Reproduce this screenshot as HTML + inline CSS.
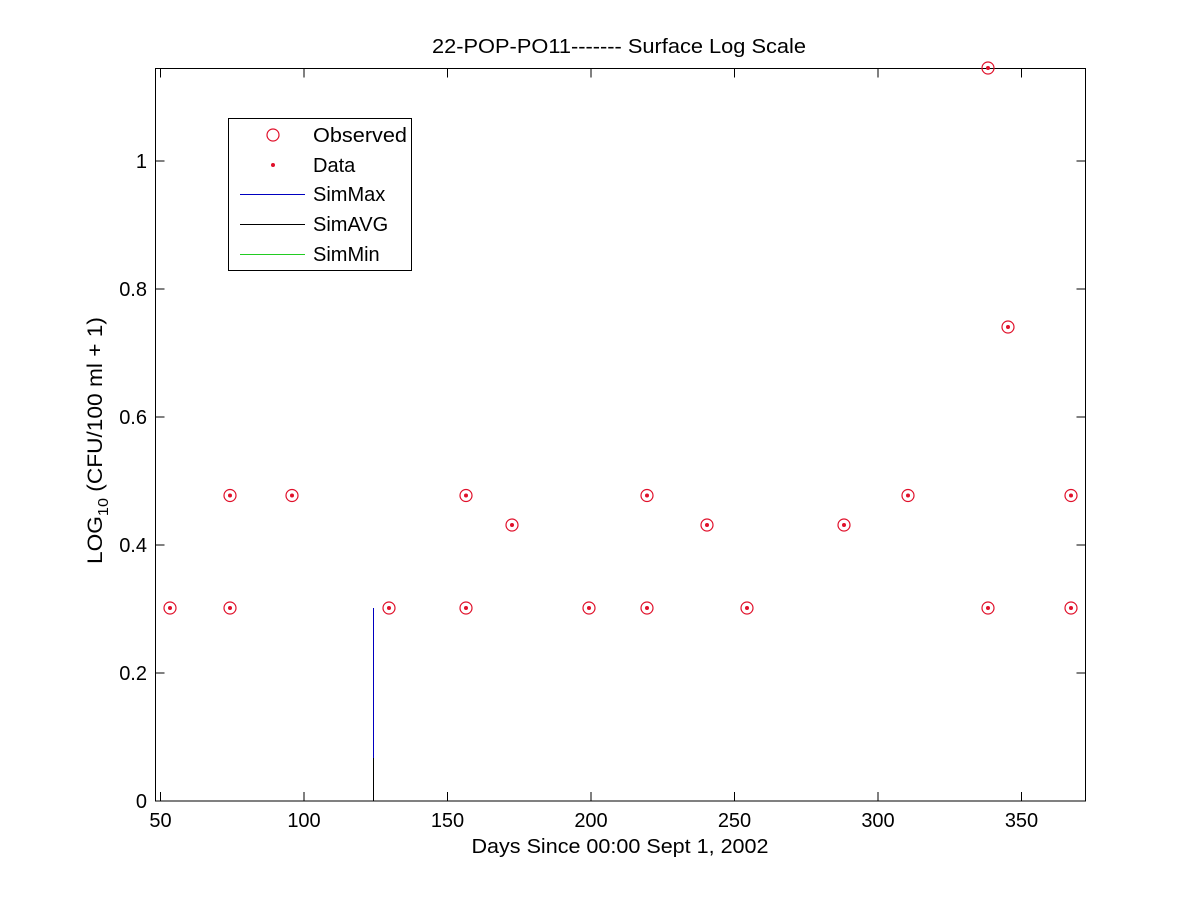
<!DOCTYPE html>
<html>
<head>
<meta charset="utf-8">
<style>
  html,body{margin:0;padding:0;background:#fff;}
  svg{display:block;}
  text{font-family:"Liberation Sans",Arial,sans-serif;fill:#000;}
</style>
</head>
<body>
<svg width="1200" height="900" viewBox="0 0 1200 900" xmlns="http://www.w3.org/2000/svg">
  <rect x="0" y="0" width="1200" height="900" fill="#fff"/>

  <!-- axes box -->
  <rect x="155.5" y="68.5" width="930" height="732.5" fill="#fff" stroke="#000" stroke-width="1"/>

  <!-- x ticks -->
  <g stroke="#000" stroke-width="1">
    <line x1="160.5" y1="801" x2="160.5" y2="792"/>
    <line x1="304" y1="801" x2="304" y2="792"/>
    <line x1="447.5" y1="801" x2="447.5" y2="792"/>
    <line x1="591" y1="801" x2="591" y2="792"/>
    <line x1="734.5" y1="801" x2="734.5" y2="792"/>
    <line x1="878" y1="801" x2="878" y2="792"/>
    <line x1="1021.5" y1="801" x2="1021.5" y2="792"/>
    <line x1="160.5" y1="68.5" x2="160.5" y2="77.5"/>
    <line x1="304" y1="68.5" x2="304" y2="77.5"/>
    <line x1="447.5" y1="68.5" x2="447.5" y2="77.5"/>
    <line x1="591" y1="68.5" x2="591" y2="77.5"/>
    <line x1="734.5" y1="68.5" x2="734.5" y2="77.5"/>
    <line x1="878" y1="68.5" x2="878" y2="77.5"/>
    <line x1="1021.5" y1="68.5" x2="1021.5" y2="77.5"/>
  </g>
  <!-- y ticks -->
  <g stroke="#000" stroke-width="1">
    <line x1="155.5" y1="673" x2="164.5" y2="673"/>
    <line x1="155.5" y1="545" x2="164.5" y2="545"/>
    <line x1="155.5" y1="417" x2="164.5" y2="417"/>
    <line x1="155.5" y1="289" x2="164.5" y2="289"/>
    <line x1="155.5" y1="161" x2="164.5" y2="161"/>
    <line x1="1085.5" y1="673" x2="1076.5" y2="673"/>
    <line x1="1085.5" y1="545" x2="1076.5" y2="545"/>
    <line x1="1085.5" y1="417" x2="1076.5" y2="417"/>
    <line x1="1085.5" y1="289" x2="1076.5" y2="289"/>
    <line x1="1085.5" y1="161" x2="1076.5" y2="161"/>
  </g>

  <!-- x tick labels -->
  <g font-size="20" text-anchor="middle">
    <text x="160.5" y="827">50</text>
    <text x="304" y="827">100</text>
    <text x="447.5" y="827">150</text>
    <text x="591" y="827">200</text>
    <text x="734.5" y="827">250</text>
    <text x="878" y="827">300</text>
    <text x="1021.5" y="827">350</text>
  </g>
  <!-- y tick labels -->
  <g font-size="20" text-anchor="end">
    <text x="147" y="808">0</text>
    <text x="147" y="680">0.2</text>
    <text x="147" y="552">0.4</text>
    <text x="147" y="424">0.6</text>
    <text x="147" y="296">0.8</text>
    <text x="147" y="168">1</text>
  </g>

  <!-- title & labels -->
  <text x="619" y="53" font-size="20" text-anchor="middle" textLength="374" lengthAdjust="spacingAndGlyphs">22-POP-PO11------- Surface Log Scale</text>
  <text x="620" y="853" font-size="20" text-anchor="middle" textLength="297" lengthAdjust="spacingAndGlyphs">Days Since 00:00 Sept 1, 2002</text>
  <text transform="translate(102,564) rotate(-90)" font-size="21" textLength="247" lengthAdjust="spacingAndGlyphs">LOG<tspan font-size="15" dy="6">10</tspan><tspan dy="-6"> (CFU/100 ml + 1)</tspan></text>

  <!-- sim lines -->
  <line x1="373.5" y1="608" x2="373.5" y2="801" stroke="#0000c0" stroke-width="1"/>
  <line x1="373.5" y1="758" x2="373.5" y2="801" stroke="#000" stroke-width="1"/>

  <!-- data points -->
  <g fill="none" stroke="#e0102a" stroke-width="1.2">
    <circle cx="170" cy="608" r="6"/>
    <circle cx="230" cy="608" r="6"/>
    <circle cx="230" cy="495.5" r="6"/>
    <circle cx="292" cy="495.5" r="6"/>
    <circle cx="389" cy="608" r="6"/>
    <circle cx="466" cy="608" r="6"/>
    <circle cx="466" cy="495.5" r="6"/>
    <circle cx="512" cy="525" r="6"/>
    <circle cx="589" cy="608" r="6"/>
    <circle cx="647" cy="608" r="6"/>
    <circle cx="647" cy="495.5" r="6"/>
    <circle cx="707" cy="525" r="6"/>
    <circle cx="747" cy="608" r="6"/>
    <circle cx="844" cy="525" r="6"/>
    <circle cx="908" cy="495.5" r="6"/>
    <circle cx="988" cy="608" r="6"/>
    <circle cx="988" cy="68" r="6"/>
    <circle cx="1008" cy="327" r="6"/>
    <circle cx="1071" cy="608" r="6"/>
    <circle cx="1071" cy="495.5" r="6"/>
  </g>
  <g fill="#e0102a">
    <circle cx="170" cy="608" r="2"/>
    <circle cx="230" cy="608" r="2"/>
    <circle cx="230" cy="495.5" r="2"/>
    <circle cx="292" cy="495.5" r="2"/>
    <circle cx="389" cy="608" r="2"/>
    <circle cx="466" cy="608" r="2"/>
    <circle cx="466" cy="495.5" r="2"/>
    <circle cx="512" cy="525" r="2"/>
    <circle cx="589" cy="608" r="2"/>
    <circle cx="647" cy="608" r="2"/>
    <circle cx="647" cy="495.5" r="2"/>
    <circle cx="707" cy="525" r="2"/>
    <circle cx="747" cy="608" r="2"/>
    <circle cx="844" cy="525" r="2"/>
    <circle cx="908" cy="495.5" r="2"/>
    <circle cx="988" cy="608" r="2"/>
    <circle cx="988" cy="68" r="2"/>
    <circle cx="1008" cy="327" r="2"/>
    <circle cx="1071" cy="608" r="2"/>
    <circle cx="1071" cy="495.5" r="2"/>
  </g>

  <!-- legend -->
  <rect x="228.5" y="118.5" width="183" height="152" fill="#fff" stroke="#000" stroke-width="1"/>
  <circle cx="273" cy="135" r="6" fill="none" stroke="#e0102a" stroke-width="1.2"/>
  <circle cx="273" cy="165" r="2" fill="#e0102a"/>
  <line x1="240" y1="194.5" x2="305" y2="194.5" stroke="#0000c0" stroke-width="1"/>
  <line x1="240" y1="224.5" x2="305" y2="224.5" stroke="#000" stroke-width="1"/>
  <line x1="240" y1="254.5" x2="305" y2="254.5" stroke="#22cc22" stroke-width="1"/>
  <g font-size="20">
    <text x="313" y="142" textLength="94" lengthAdjust="spacingAndGlyphs">Observed</text>
    <text x="313" y="172">Data</text>
    <text x="313" y="201">SimMax</text>
    <text x="313" y="231">SimAVG</text>
    <text x="313" y="261">SimMin</text>
  </g>
</svg>
</body>
</html>
